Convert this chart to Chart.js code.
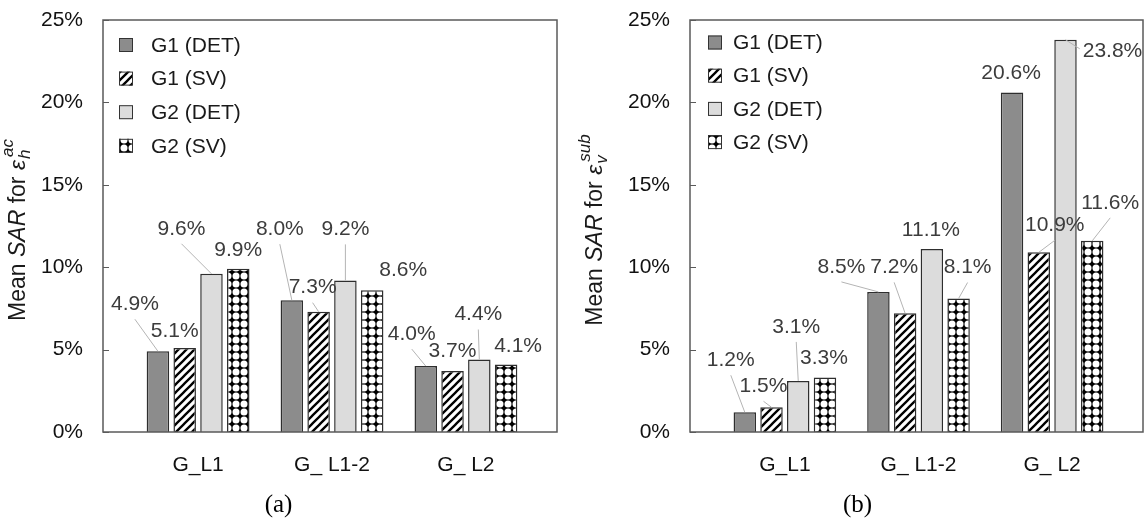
<!DOCTYPE html>
<html>
<head>
<meta charset="utf-8">
<script src="https://cdn.jsdelivr.net/npm/chart.js@4.4.1/dist/chart.umd.min.js"></script>
<style>
  html, body { margin: 0; padding: 0; background: #fff; }
  #fig { position: relative; width: 1145px; height: 523px; overflow: hidden; background: #fff; }
  .panel { position: absolute; top: 0; }
</style>
</head>
<body>
<div id="fig">
  <div class="panel" style="left:0"><canvas id="chartA" width="572" height="523"></canvas></div>
  <div class="panel" style="left:572px"><canvas id="chartB" width="573" height="523"></canvas></div>
</div>
<script>
// ---- data -------------------------------------------------------------
const categories = ['G_L1', 'G_ L1-2', 'G_ L2'];
const seriesNames = ['G1 (DET)', 'G1 (SV)', 'G2 (DET)', 'G2 (SV)'];
const yTicks = [0, 5, 10, 15, 20, 25];

// (a) mean SAR for the horizontal accumulated strain, in %
const a_G1_DET = [4.9, 8.0, 4.0];
const a_G1_SV  = [5.1, 7.3, 3.7];
const a_G2_DET = [9.6, 9.2, 4.4];
const a_G2_SV  = [9.9, 8.6, 4.1];

// (b) mean SAR for the vertical subsidence strain, in %
const b_G1_DET = [1.2, 8.5, 20.6];
const b_G1_SV  = [1.5, 7.2, 10.9];
const b_G2_DET = [3.1, 11.1, 23.8];
const b_G2_SV  = [3.3, 8.1, 11.6];

// value label placement, relative to the top centre of each bar: [dx, dy, leader]
// leader: 0 = none, 1 = from the label's bottom, 2 = from the label's left side
const a_labelPos = [
  [[-23, -47, 1], [-12, -71, 1], [-14, -32, 1]],
  [[-10, -17, 0], [-6, -24, 1], [0, -20, 0]],
  [[-30, -45, 1], [0, -51, 1], [-1, -45, 1]],
  [[0, -19, 0], [31, -20, 0], [12, -18, 0]]
];
const b_labelPos = [
  [[-14, -52, 1], [-37, -25, 1], [-1, -19, 0]],
  [[-8, -21, 1], [-11, -46, 1], [16, -27, 1]],
  [[-2, -54, 1], [-1, -19, 0], [47, 11, 2]],
  [[-1, -19, 0], [9, -31, 1], [18, -38, 1]]
];

// ---- styling helpers --------------------------------------------------
const SANS = '"Liberation Sans", Arial, Helvetica, sans-serif';
Chart.defaults.font.family = SANS;

function hatchPattern(ctx) {
  const s = 8;
  const c = document.createElement('canvas');
  c.width = c.height = s;
  const g = c.getContext('2d');
  g.fillStyle = '#fff';
  g.fillRect(0, 0, s, s);
  g.strokeStyle = '#000';
  g.lineWidth = 2.3;
  g.beginPath();
  g.moveTo(-1, s + 1); g.lineTo(s + 1, -1);
  g.moveTo(-2, 2); g.lineTo(2, -2);
  g.moveTo(s - 2, s + 2); g.lineTo(s + 2, s - 2);
  g.stroke();
  return ctx.createPattern(c, 'repeat');
}

function dotPattern(ctx) {
  const s = 8;
  const c = document.createElement('canvas');
  c.width = c.height = s;
  const g = c.getContext('2d');
  g.fillStyle = '#000';
  g.fillRect(0, 0, s, s);
  g.fillStyle = '#fff';
  g.beginPath();
  g.arc(s / 2, s / 2, 3.5, 0, Math.PI * 2);
  g.fill();
  return ctx.createPattern(c, 'repeat');
}

function font(size, italic) {
  return (italic ? 'italic ' : '') + size + 'px ' + SANS;
}

// frame, inward y ticks, value labels with leaders, legend and the y-axis title
const panelDecor = {
  id: 'panelDecor',
  afterDatasetsDraw(chart, args, opts) {
    const ctx = chart.ctx;
    const area = chart.chartArea;
    const yScale = chart.scales.y;

    ctx.save();
    // plot frame
    ctx.strokeStyle = '#5a5a5a';
    ctx.lineWidth = 1.5;
    ctx.strokeRect(area.left, area.top, area.right - area.left, area.bottom - area.top);

    // short tick marks on the inside of the value axis
    ctx.beginPath();
    yScale.ticks.forEach(t => {
      const py = Math.round(yScale.getPixelForValue(t.value)) + 0.5;
      ctx.moveTo(area.left, py);
      ctx.lineTo(area.left + 6, py);
    });
    ctx.lineWidth = 1;
    ctx.stroke();

    // value labels
    ctx.font = font(21, false);
    ctx.textAlign = 'center';
    ctx.textBaseline = 'middle';
    chart.data.datasets.forEach((ds, k) => {
      const meta = chart.getDatasetMeta(k);
      meta.data.forEach((el, i) => {
        const v = ds.data[i].y;
        const [dx, dy, leader] = opts.labelPos[k][i];
        const text = v.toFixed(1) + '%';
        const cx = el.x + dx;
        const cy = el.y + dy;
        const w = ctx.measureText(text).width;
        if (leader) {
          let sx = cx, sy = cy + 15;
          if (leader === 2) { sx = cx - w / 2 - 3; sy = cy - 2; }
          ctx.beginPath();
          ctx.moveTo(sx, sy);
          ctx.lineTo(el.x, el.y);
          ctx.strokeStyle = '#b4b4b4';
          ctx.lineWidth = 1;
          ctx.stroke();
        }
        ctx.fillStyle = '#3c3c3c';
        ctx.fillText(text, cx, cy);
      });
    });

    // legend
    const lg = opts.legend;
    ctx.textAlign = 'left';
    ctx.textBaseline = 'middle';
    ctx.font = font(21, false);
    chart.data.datasets.forEach((ds, k) => {
      const yC = area.top + lg.y0 + k * lg.dy;
      const bx = area.left + lg.boxX;
      ctx.fillStyle = ds.backgroundColor;
      ctx.fillRect(bx, yC - 7, 14, 14);
      ctx.strokeStyle = '#333';
      ctx.lineWidth = 1;
      ctx.strokeRect(bx + 0.5, yC - 6.5, 13, 13);
      ctx.fillStyle = '#1a1a1a';
      ctx.fillText(ds.label, area.left + lg.textX, yC + 1);
    });

    // rotated y-axis title with italic symbol, subscript and superscript
    const t = opts.yTitle;
    const main = [
      { s: t[0], it: false }, { s: t[1], it: true },
      { s: t[2], it: false }, { s: t[3], it: true }
    ];
    const big = 23, small = 17;
    let total = 0;
    main.forEach(r => { ctx.font = font(big, r.it); r.w = ctx.measureText(r.s).width; total += r.w; });
    ctx.font = font(small, true);
    const subW = ctx.measureText(t[4]).width;
    const supW = ctx.measureText(t[5]).width;
    total += 3 + Math.max(subW, supW);
    ctx.translate(opts.titleX, (area.top + area.bottom) / 2 + 4);
    ctx.rotate(-Math.PI / 2);
    ctx.textAlign = 'left';
    ctx.textBaseline = 'alphabetic';
    ctx.fillStyle = '#1a1a1a';
    let x = -total / 2;
    main.forEach(r => { ctx.font = font(big, r.it); ctx.fillText(r.s, x, 0); x += r.w; });
    ctx.font = font(small, true);
    ctx.fillText(t[4], x + 1, 5);
    ctx.fillText(t[5], x + 3, -12);
    ctx.restore();
  }
};

function makeChart(id, series, labelPos, caption, yTitle, geom) {
  const canvas = document.getElementById(id);
  const ctx = canvas.getContext('2d');
  const fills = ['#8c8c8c', hatchPattern(ctx), '#dcdcdc', dotPattern(ctx)];
  const datasets = series.map((vals, k) => ({
    label: seriesNames[k],
    data: vals.map((v, i) => ({ x: i + 1, y: v })),
    backgroundColor: fills[k],
    borderColor: '#2e2e2e',
    borderWidth: 1.5,
    categoryPercentage: 0.8,
    barPercentage: 0.84
  }));
  return new Chart(ctx, {
    type: 'bar',
    data: { datasets },
    plugins: [panelDecor],
    options: {
      responsive: false,
      devicePixelRatio: 1,
      animation: false,
      layout: { padding: { left: 0, top: 20, right: geom.rightPad, bottom: 0 } },
      plugins: {
        legend: { display: false },
        tooltip: { enabled: false },
        title: {
          display: true,
          position: 'bottom',
          text: caption,
          color: '#000',
          font: { family: '"Liberation Serif", "Times New Roman", serif', size: 25, weight: 'normal' },
          padding: { top: 2, bottom: 3 }
        },
        panelDecor: { labelPos, yTitle, titleX: geom.titleX, legend: geom.legend }
      },
      scales: {
        x: {
          type: 'linear',
          min: 0.29,
          max: 3.68,
          offset: false,
          afterBuildTicks: s => { s.ticks = categories.map((_, i) => ({ value: i + 1 })); },
          afterFit: s => { s.height = 56; s.paddingLeft = 0; s.paddingRight = 0; },
          grid: { display: false, drawTicks: false },
          border: { display: false },
          ticks: {
            autoSkip: false,
            maxRotation: 0,
            padding: 21,
            color: '#111',
            font: { size: 21 },
            callback: v => categories[v - 1] ?? ''
          }
        },
        y: {
          min: 0,
          max: 25,
          afterBuildTicks: s => { s.ticks = yTicks.map(v => ({ value: v })); },
          afterFit: s => { s.width = geom.yWidth; s.paddingTop = 0; s.paddingBottom = 0; },
          grid: { display: false, drawTicks: false },
          border: { display: false },
          ticks: {
            padding: 20,
            color: '#111',
            font: { size: 21 },
            callback: v => v + '%'
          }
        }
      }
    }
  });
}

makeChart('chartA',
  [a_G1_DET, a_G1_SV, a_G2_DET, a_G2_SV],
  a_labelPos, '(a)',
  ['Mean ', 'SAR', ' for ', 'ε', 'h', 'ac'],
  { yWidth: 103, rightPad: 15, titleX: 25, legend: { boxX: 16, textX: 48, y0: 25, dy: 33.6 } });

makeChart('chartB',
  [b_G1_DET, b_G1_SV, b_G2_DET, b_G2_SV],
  b_labelPos, '(b)',
  ['Mean ', 'SAR', ' for ', 'ε', 'v', 'sub'],
  { yWidth: 118, rightPad: 2, titleX: 30, legend: { boxX: 18, textX: 43, y0: 22.5, dy: 33.2 } });
</script>
</body>
</html>
